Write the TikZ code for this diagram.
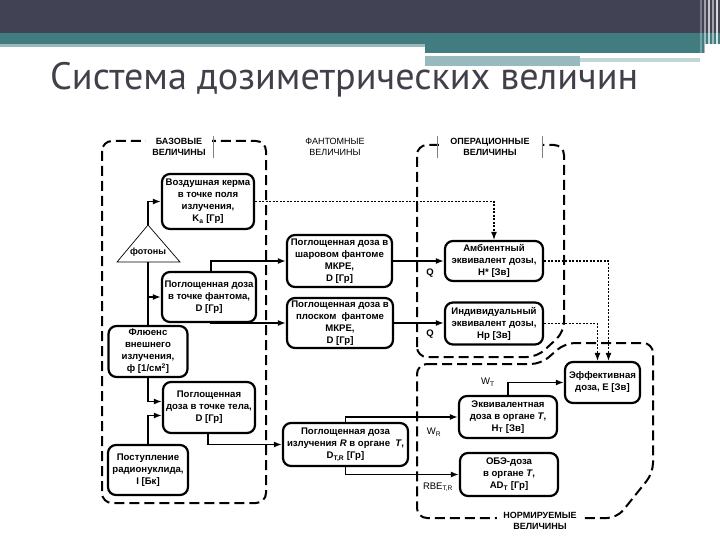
\documentclass[tikz,border=0pt]{standalone}
\usepackage{graphicx}
\usepackage{fontspec}
\setmainfont{Liberation Sans}
\newfontfamily\titlefont{PT Sans}
\usetikzlibrary{arrows.meta,calc}
\definecolor{hdark}{RGB}{65,67,84}
\definecolor{hteal}{RGB}{64,124,128}
\definecolor{hlight}{RGB}{150,186,189}
\definecolor{titlecol}{RGB}{64,64,74}
\tikzset{
  qbox/.style={draw, rectangle, rounded corners=8pt, line width=2.2pt, fill=white,
    align=center, inner sep=1pt, font=\fontsize{9.6}{12}\selectfont\bfseries},
  cont/.style={line width=2pt, dash pattern=on 10pt off 5pt, rounded corners=10pt},
  arr/.style={line width=1.6pt, -{Latex[length=8pt,width=6pt]}},
  conn/.style={line width=1.6pt},
  dotarr/.style={line width=1.3pt, dash pattern=on 2pt off 1.5pt, -{Latex[length=8pt,width=6pt]}},
  grplabel/.style={fill=white, align=center, inner sep=1pt, font=\fontsize{9}{11}\selectfont\bfseries},
  fac/.style={inner sep=0pt, font=\fontsize{9.5}{11}\selectfont}
}
\begin{document}
\begin{tikzpicture}[x=1pt,y=-1pt]
\useasboundingbox (0,0) rectangle (720,540);
% header
\fill[hdark] (0,0) rectangle (720,33);
\fill[hteal] (0,33) rectangle (720,44);
\fill[hlight] (0,44) rectangle (425,47);
\fill[hteal] (425,44) rectangle (705,53);
\fill[hlight] (425,56) rectangle (580,66);
\fill[hlight!60] (580,58) rectangle (700,62);
\foreach \xx/\op in {700/0.3,704/0.5,708/0.7,712/0.5,716/0.8}
  \fill[white,opacity=\op] (\xx,0) rectangle (\xx+2,66);
% title
\node[anchor=base west, inner sep=0, text=titlecol] (title) at (50,90)
  {\resizebox{588pt}{!}{\titlefont\fontsize{38}{40}\selectfont Система дозиметрических величин}};

% containers
\draw[cont] (102,141) rectangle (266,503);
\draw[cont] (417,357) -- (417,145) -- (564,145) -- (564,332) -- (537,357) -- cycle;
\draw[cont] (417,364) -- (541,364) -- (565,343) -- (653,343) -- (653,473) -- (617,518) -- (417,518) -- cycle;

% group labels
\node[grplabel, minimum width=66pt] (lbase) at (179,147) {БАЗОВЫЕ\\ВЕЛИЧИНЫ};
\draw[line width=0.6pt, gray] (213,136) -- (213,158);
\node[grplabel, font=\fontsize{9}{11}\selectfont] (lphant) at (335,147) {ФАНТОМНЫЕ\\ВЕЛИЧИНЫ};
\node[grplabel, minimum width=103pt] (loper) at (490,147) {ОПЕРАЦИОННЫЕ\\ВЕЛИЧИНЫ};
\draw[line width=0.6pt, gray] (437,136) -- (437,158);
\draw[line width=0.6pt, gray] (542,136) -- (542,158);
\node[grplabel, minimum width=86pt] (lnorm) at (540,521) {НОРМИРУЕМЫЕ\\ВЕЛИЧИНЫ};

% photons triangle
\draw[line width=0.7pt, fill=white] (117,262) -- (148,225) -- (180,262) -- cycle;
\coordinate (apex) at (148,225);
\coordinate (tbase) at (148,262);
\node[font=\fontsize{9}{10}\selectfont\bfseries] (phot) at (148,252) {фотоны};

% boxes
\node[qbox, minimum width=92pt, minimum height=55pt] (kerma) at (208,201.5) {Воздушная керма\\в точке поля\\излучения,\\K\textsubscript{а} [Гр]};
\node[qbox, minimum width=94pt, minimum height=50pt] (phantD) at (209,297) {Поглощенная доза\\в точке фантома,\\D [Гр]};
\node[qbox, minimum width=79pt, minimum height=51pt] (fluence) at (148,351.5) {Флюенс\\внешнего\\излучения,\\ф [1/см\textsuperscript{2}]};
\node[qbox, minimum width=92pt, minimum height=51pt] (bodyD) at (209,407.5) {Поглощенная\\доза в точке тела,\\D [Гр]};
\node[qbox, minimum width=80pt, minimum height=50pt] (intake) at (148,470) {Поступление\\радионуклида,\\I [Бк]};
\node[qbox, minimum width=105pt, minimum height=52pt] (sphere) at (339.5,261) {Поглощенная доза в\\шаровом фантоме\\МКРЕ,\\D [Гр]};
\node[qbox, minimum width=106pt, minimum height=50pt] (slab) at (340,323) {Поглощенная доза в\\плоском\ \ фантоме\\МКРЕ,\\D [Гр]};
\node[qbox, minimum width=125pt, minimum height=43pt] (organD) at (345.5,444.5) {Поглощенная доза\\излучения \textit{R} в органе\ \ \textit{T},\\D\textsubscript{T,R} [Гр]};
\node[qbox, minimum width=98pt, minimum height=40pt] (ambient) at (494,261) {Амбиентный\\эквивалент дозы,\\H* [Зв]};
\node[qbox, minimum width=98pt, minimum height=42pt] (indiv) at (494,323.5) {Индивидуальный\\эквивалент дозы,\\Hp [Зв]};
\node[qbox, minimum width=98pt, minimum height=42pt] (equiv) at (508,417) {Эквивалентная\\доза в органе \textit{T},\\H\textsubscript{T} [Зв]};
\node[qbox, minimum width=98pt, minimum height=43pt] (rbe) at (509,474.5) {ОБЭ-доза\\в органе \textit{T},\\AD\textsubscript{T} [Гр]};
\node[qbox, minimum width=75pt, minimum height=41pt] (eff) at (602.5,382.5) {Эффективная\\доза, E [Зв]};

% connectors, left column
\draw[arr] (apex) |- (kerma.west);
\draw[conn] (tbase) -- (fluence.north);
\draw[arr] (tbase |- phantD.west) -- (phantD.west);
\draw[arr] (fluence.south) |- ($(bodyD.west)+(0,-6)$);
\draw[arr] (intake.north) |- ($(bodyD.west)+(0,8)$);

% left to middle
\draw[arr] ($(phantD.north)+(2,0)$) |- (sphere.west);
\draw[arr] ($(phantD.south)+(2,0)$) |- (slab.west);
\draw[arr] ($(bodyD.south)+(-1,0)$) |- (organD.west);
\draw[dotarr] (kerma.east) -| (ambient.north);

% middle to right
\draw[arr] (sphere.east) -- (sphere.east -| ambient.west);
\draw[arr] (slab.east) -- (slab.east -| indiv.west);
\draw[arr] (organD.north) |- (equiv.west);
\draw[arr] (organD.south) |- (rbe.west);
\draw[arr] (equiv.north) |- (eff.west);
\draw[dotarr] (ambient.east) -| ($(eff.north)+(6,0)$);
\draw[dotarr] (indiv.east) -| ($(eff.north)+(-5,0)$);

% factor labels
\node[fac, font=\fontsize{9.5}{11}\selectfont\bfseries] (q1) at (430,273) {Q};
\node[fac, font=\fontsize{9.5}{11}\selectfont\bfseries] (q2) at (430,334) {Q};
\node[fac] (wt) at (488,382) {W\textsubscript{T}};
\node[fac] (wr) at (434,432) {W\textsubscript{R}};
\node[fac] (rbef) at (438,487) {RBE\textsubscript{T,R}};
\end{tikzpicture}
\end{document}
